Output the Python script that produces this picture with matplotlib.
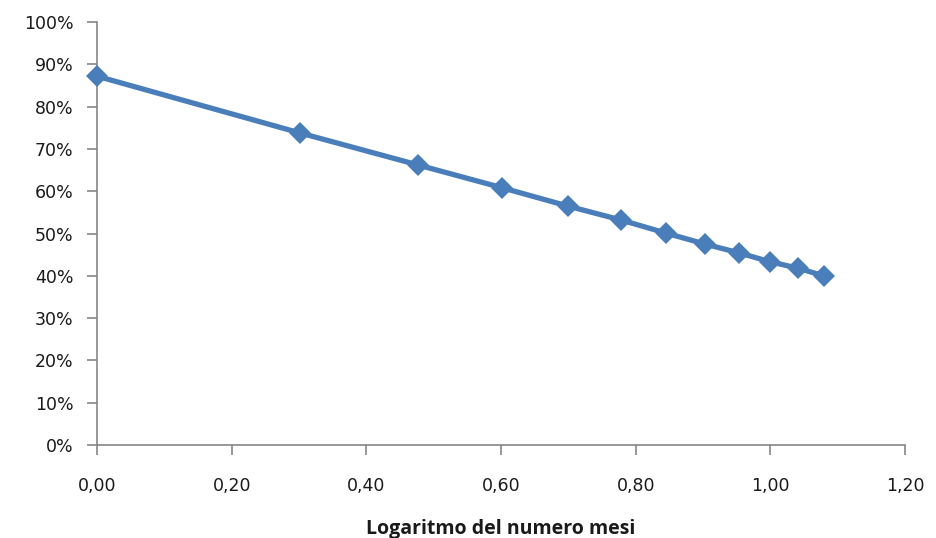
import matplotlib
matplotlib.use("Agg")
import matplotlib.pyplot as plt
from matplotlib.ticker import FuncFormatter

plt.rcParams["font.family"] = ["DejaVu Sans"]

# log10 of month number (1..12) and the corresponding share
log_mesi = [0.000, 0.301, 0.477, 0.602, 0.699, 0.778, 0.845, 0.903, 0.954, 1.000, 1.041, 1.079]
quota = [0.872, 0.738, 0.662, 0.608, 0.565, 0.532, 0.501, 0.475, 0.454, 0.433, 0.418, 0.400]

x_ticks = [0.0, 0.2, 0.4, 0.6, 0.8, 1.0, 1.2]
y_ticks = [i / 10 for i in range(11)]

axis_grey = "#868686"
line_blue = "#4a7ebb"

fig = plt.figure(figsize=(9.36, 5.38), dpi=100)
ax = fig.add_axes([0.1036, 0.1729, 0.8634, 0.7861])

ax.plot(log_mesi, quota, color=line_blue, linewidth=3.8,
        marker="D", markersize=11, markeredgewidth=0, clip_on=False, zorder=3)

ax.set_xlim(0, 1.2)
ax.set_ylim(0, 1.0)
ax.set_xticks(x_ticks)
ax.set_yticks(y_ticks)
ax.xaxis.set_major_formatter(FuncFormatter(lambda v, p: f"{v:.2f}".replace(".", ",")))
ax.yaxis.set_major_formatter(FuncFormatter(lambda v, p: f"{v * 100:.0f}%"))

for side in ["top", "right"]:
    ax.spines[side].set_visible(False)
for side in ["left", "bottom"]:
    ax.spines[side].set_color(axis_grey)
    ax.spines[side].set_linewidth(1.2)

ax.tick_params(axis="both", colors=axis_grey, length=7, width=1.2, direction="out",
               labelcolor="#1a1a1a", labelsize=12.5)
ax.tick_params(axis="x", pad=16)
ax.tick_params(axis="y", pad=10)

ax.set_xlabel("Logaritmo del numero mesi", fontsize=14, fontweight="bold",
              family="Open Sans", color="#1a1a1a", labelpad=17)

fig.savefig("out.png", dpi=100)
